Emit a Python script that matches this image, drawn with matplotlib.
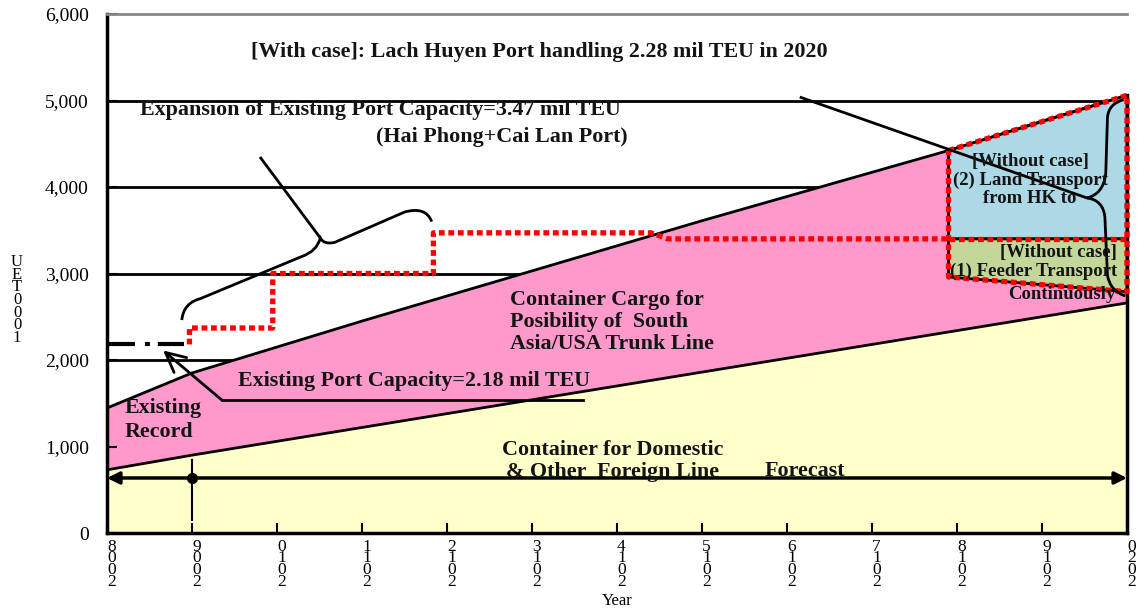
import matplotlib
matplotlib.use("Agg")
import matplotlib.pyplot as plt
from matplotlib.path import Path
from matplotlib.patches import PathPatch, Polygon
import numpy as np

# ---------------- data ----------------
years = [2008, 2009, 2010, 2011, 2012, 2013, 2014, 2015, 2016, 2017, 2018, 2019, 2020]
year_labels = ["\n".join(reversed(str(y))) for y in years]

# container for domestic & other foreign lines (1000 TEU)
domestic = [730, 900, 1060, 1220, 1380, 1540, 1700, 1860, 2020, 2180, 2340, 2500, 2660]
# total demand incl. South Asia / USA trunk line cargo (1000 TEU)
total = [1445, 1850, 2150, 2450, 2740, 3030, 3320, 3610, 3890, 4170, 4450, 4760, 5060]

existing_capacity = 2180          # 2.18 mil TEU
capacity_step_years = [2008.97, 2008.97, 2009.95, 2009.95, 2011.84, 2011.84, 2014.4, 2014.6, 2017.9]
capacity_step_values = [2180, 2370, 2370, 3000, 3000, 3470, 3470, 3400, 3400]

without_start = 2017.9
land_feeder_split = 3400
feeder_bottom = [2960, 2790]      # at without_start and 2020

forecast_level = 636

y_ticks = [0, 1000, 2000, 3000, 4000, 5000, 6000]
y_tick_labels = ['0', '1,000', '2,000', '3,000', '4,000', '5,000', '6,000']

# ---------------- figure ----------------
plt.rcParams['font.family'] = ['Liberation Serif', 'DejaVu Serif']
fig = plt.figure(figsize=(11.41, 6.13), dpi=100)
ax = fig.add_axes([107 / 1141, 1 - 533 / 613, (1127 - 107) / 1141, (533 - 14) / 613])
ax.set_xlim(2008, 2020)
ax.set_ylim(0, 6000)

YELLOW = '#FFFFCC'
PINK = '#FF99CC'
BLUE = '#ADD8E6'
GREEN = '#C4D79B'
RED = '#FF0000'

# gridlines sit under the filled areas
for g in [2000, 3000, 4000, 5000]:
    ax.axhline(g, color='black', lw=2, zorder=0.5)

ax.fill_between(years, 0, domestic, color=YELLOW, zorder=1, lw=0)
ax.fill_between(years, domestic, total, color=PINK, zorder=1, lw=0)
ax.plot(years, domestic, color='black', lw=2, zorder=2)
ax.plot(years, total, color='black', lw=2, zorder=2)

# without-case regions on the right
top_left = np.interp(without_start, years, total)
land_poly = [(without_start, top_left), (2020, total[-1]),
             (2020, land_feeder_split), (without_start, land_feeder_split)]
feeder_poly = [(without_start, land_feeder_split), (2020, land_feeder_split),
               (2020, feeder_bottom[1]), (without_start, feeder_bottom[0])]
ax.add_patch(Polygon(land_poly, closed=True, facecolor=BLUE, edgecolor='black', lw=2, zorder=3))
ax.add_patch(Polygon(feeder_poly, closed=True, facecolor=GREEN, edgecolor='black', lw=2, zorder=3))

# right border of the chart body
ax.plot([2020, 2020], [0, total[-1]], color='black', lw=2.5, zorder=3, clip_on=False)

# existing capacity (dash-dot) and with-case capacity steps (red dotted)
ax.plot([2008, 2008.9], [existing_capacity, existing_capacity], color='black', lw=3,
        linestyle=(0, (6.7, 2.4, 1.2, 1.9)), zorder=4)
red_style = dict(color=RED, lw=3.8, linestyle=(0, (1.1, 0.7)), dash_capstyle='butt',
                 zorder=5, clip_on=False)
ax.plot(capacity_step_years, capacity_step_values, **red_style)
ax.plot([without_start, 2020, 2020, without_start, without_start],
        [top_left, total[-1], feeder_bottom[1], feeder_bottom[0], top_left], **red_style)
ax.plot([without_start, 2020], [land_feeder_split, land_feeder_split], **red_style)

# forecast double arrow and record/forecast divider
ax.annotate('', xy=(2008, forecast_level), xytext=(2020, forecast_level),
            arrowprops=dict(arrowstyle='<|-|>', color='black', lw=2.5,
                            mutation_scale=18, shrinkA=0, shrinkB=0), zorder=6)
ax.plot([2009, 2009], [150, 844], color='black', lw=1.5, zorder=6)
ax.plot([2009], [forecast_level], 'o', color='black', ms=7, zorder=6)

# ---------------- annotation strokes ----------------
def stroke(verts, codes, lw=2):
    ax.add_patch(PathPatch(Path(verts, codes), facecolor='none', edgecolor='black',
                           lw=lw, zorder=7, clip_on=False))

M, L, C = Path.MOVETO, Path.LINETO, Path.CURVE3
# brace for expansion of existing ports
stroke([(2008.88, 2462), (2008.9, 2660), (2009.1, 2710), (2010.3, 3200),
        (2010.47, 3260), (2010.51, 3410), (2010.55, 3330), (2010.68, 3360),
        (2011.5, 3710), (2011.75, 3780), (2011.82, 3600)],
       [M, C, C, L, C, C, C, C, L, C, C])
stroke([(2009.8, 4347), (2010.51, 3410)], [M, L])

# brace for Lach Huyen with-case volume
stroke([(2019.96, 5010), (2019.78, 4960), (2019.77, 4800), (2019.75, 4150),
        (2019.72, 3920), (2019.53, 3873), (2019.72, 3850), (2019.74, 3650),
        (2019.77, 2980), (2019.8, 2800), (2019.98, 2740)],
       [M, C, C, L, C, C, C, C, L, C, C])
stroke([(2016.15, 5040), (2019.53, 3873)], [M, L])

# pointer to existing capacity
ax.plot([2013.6, 2009.35], [1538, 1538], color='black', lw=2, zorder=7)
ax.annotate('', xy=(2008.66, 2110), xytext=(2009.35, 1538),
            arrowprops=dict(arrowstyle='->, head_length=0.7, head_width=0.35',
                            color='black', lw=2, mutation_scale=20,
                            shrinkA=0, shrinkB=0), zorder=7)

# ---------------- texts ----------------
bold = dict(fontweight='bold', color='#141414', zorder=8)
BIG = 15.8
SMALL = 13.5
ax.text(2013.09, 5561, '[With case]: Lach Huyen Port handling 2.28 mil TEU in 2020',
        ha='center', va='center', fontsize=BIG, **bold)
ax.text(2008.39, 4890, 'Expansion of Existing Port Capacity=3.47 mil TEU',
        ha='left', va='center', fontsize=BIG, **bold)
ax.text(2014.12, 4578, '(Hai Phong+Cai Lan Port)', ha='right', va='center', fontsize=BIG, **bold)
ax.text(2009.54, 1757, 'Existing Port Capacity=2.18 mil TEU', ha='left', va='center',
        fontsize=BIG, **bold)
ax.text(2008.21, 1306, 'Existing\nRecord', ha='left', va='center', fontsize=BIG,
        linespacing=1.23, **bold)
ax.text(2012.74, 2439, 'Container Cargo for\nPosibility of  South\nAsia/USA Trunk Line',
        ha='left', va='center', fontsize=BIG, linespacing=1.16, **bold)
ax.text(2013.95, 832, 'Container for Domestic\n& Other  Foreign Line', ha='center',
        va='center', fontsize=BIG, linespacing=1.1, **bold)
ax.text(2015.74, 717, 'Forecast', ha='left', va='center', fontsize=BIG, **bold)
ax.text(2018.86, 4081, '[Without case]\n(2) Land Transport\nfrom HK to', ha='center',
        va='center', fontsize=SMALL, linespacing=1.1, **bold)
ax.text(2019.88, 3133, '[Without case]\n(1) Feeder Transport', ha='right', va='center',
        fontsize=SMALL, linespacing=1.12, **bold)
ax.text(2019.86, 2763, 'Continuously', ha='right', va='center', fontsize=SMALL, **bold)

# ---------------- axes styling ----------------
ax.set_yticks(y_ticks)
ax.set_yticklabels(y_tick_labels)
ax.set_xticks(years)
ax.set_xticklabels(year_labels, ha='left', linespacing=0.64)
ax.tick_params(axis='both', direction='in', length=7, width=1.5, colors='black')
ax.tick_params(axis='x', pad=4, labelsize=12.5)
ax.tick_params(axis='y', pad=13, labelsize=14)
for side in ['left', 'bottom']:
    ax.spines[side].set_linewidth(2.5)
    ax.spines[side].set_color('black')
ax.spines['top'].set_color('#888888')
ax.spines['top'].set_linewidth(2)
ax.spines['right'].set_visible(False)

fig.text(17 / 1141, 1 - 300 / 613, 'U\nE\nT\n0\n0\n0\n1', ha='center', va='center',
         fontsize=12, linespacing=0.72)
fig.text(617 / 1141, 1 - 601 / 613, 'Year', ha='center', va='center', fontsize=12)

fig.savefig('out.png', dpi=100, facecolor='white')
